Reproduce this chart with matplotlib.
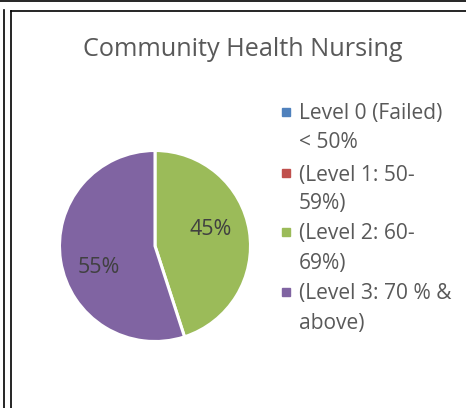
import numpy as np
import matplotlib
matplotlib.use("Agg")
import matplotlib.pyplot as plt
from matplotlib.patches import Rectangle
from matplotlib.lines import Line2D

title = "Community Health Nursing"
categories = ["Level 0 (Failed)\n< 50%", "(Level 1: 50-\n59%)", "(Level 2: 60-\n69%)", "(Level 3: 70 % &\nabove)"]
values = [0, 0, 45, 55]
colors = ["#4F81BD", "#C0504D", "#9BBB59", "#8064A2"]

plt.rcParams['font.family'] = ['Open Sans', 'DejaVu Sans']
W, H = 466, 408
fig = plt.figure(figsize=(W / 100, H / 100), dpi=100)

def fx(x):
    return x / W

def fy(y):
    return 1 - y / H

# borders
for (x0, y0, x1, y1) in [(0, 0.5, W, 0.5), (3.5, 10, 3.5, H), (10.5, 10.5, 10.5, H), (10.5, 10.5, W, 10.5)]:
    fig.add_artist(Line2D([fx(x0), fx(x1)], [fy(y0), fy(y1)], color="black", lw=1.2))

# pie
cx, cy, r = 155, 246, 95.5
ax = fig.add_axes([fx(cx - r), fy(cy + r), 2 * r / W, 2 * r / H])
wedges, texts, autotexts = ax.pie(
    values, colors=colors, startangle=90, counterclock=False,
    autopct=lambda p: f"{p:.0f}%" if p > 0 else "", pctdistance=0.62,
    wedgeprops=dict(edgecolor="white", linewidth=2.2),
    textprops=dict(color="#404040", fontsize=15.5))
ax.set_xlim(-1, 1)
ax.set_ylim(-1, 1)
ax.set_aspect("equal")
for w, t in zip(wedges, autotexts):
    if t.get_text():
        ang = np.deg2rad((w.theta1 + w.theta2) / 2 + 9.5)
        t.set_position((0.62 * np.cos(ang), 0.62 * np.sin(ang)))
        t.set_va("center_baseline")

fig.text(fx(243), fy(50), title, ha="center", va="center", fontsize=18.2, color="#595959")

# legend
row_y = [112, 173, 232, 292]
line_gap = 29
for cat, col, y in zip(categories, colors, row_y):
    fig.add_artist(Rectangle((fx(282), fy(y + 4)), 8 / W, 8 / H, color=col, transform=fig.transFigure))
    for i, line in enumerate(cat.split("\n")):
        fig.text(fx(299), fy(y + i * line_gap + 7.5), line, ha="left", va="baseline",
                 fontsize=15.1, color="#595959")

fig.savefig("out.png", dpi=100)
